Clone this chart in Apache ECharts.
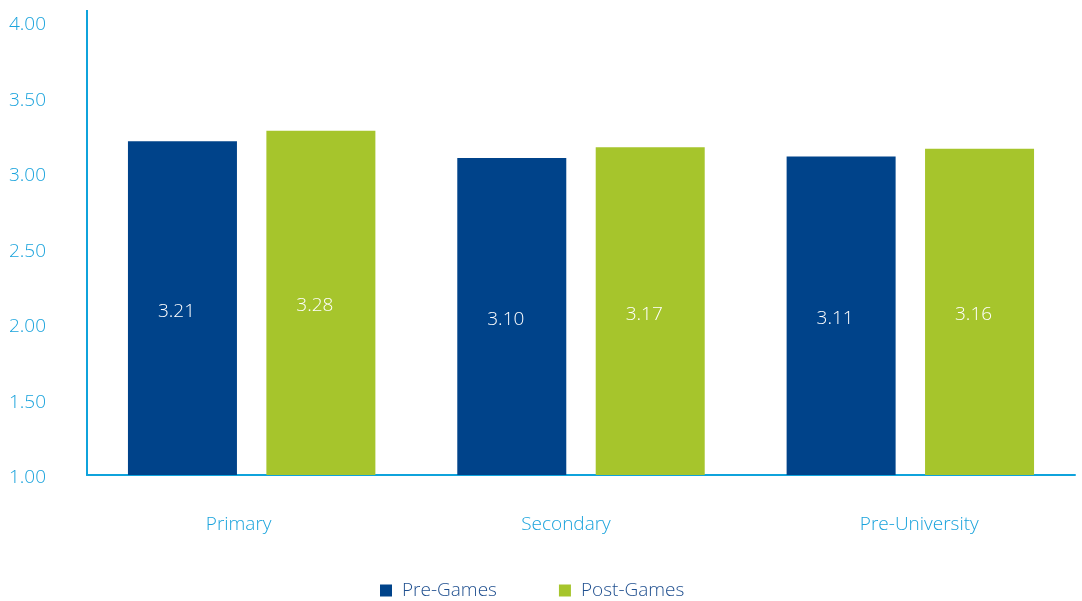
<!DOCTYPE html>
<html><head><meta charset="utf-8">
<script src="https://cdn.jsdelivr.net/npm/echarts@6/dist/echarts.min.js"></script>
<style>html,body{margin:0;padding:0;background:#fff}#c{width:1082px;height:601px}</style>
</head><body><div id="c"></div>
<script>
const categories = ['Primary', 'Secondary', 'Pre-University'];
const preGames = [3.21, 3.10, 3.11];
const postGames = [3.28, 3.17, 3.16];
const seriesNames = ['Pre-Games', 'Post-Games'];

const FONT = '"Open Sans", "Noto Sans", sans-serif';
const catPadding = [[0, 26, 0, 0], [0, 30, 0, 0], [0, 0, 0, 18]];
const chart = echarts.init(document.getElementById('c'));
const labelStyle = {show: true, position: 'inside', offset: [-6, 3], color: '#fff', fontSize: 19, fontFamily: FONT, fontWeight: 300,
  formatter: p => p.value.toFixed(2)};
chart.setOption({
  animation: false,
  grid: {left: 87, right: 7, top: 22, bottom: 126, containLabel: false},
  legend: {top: 576, left: 375, itemWidth: 12, itemHeight: 12, itemGap: 62, icon: 'rect',
    textStyle: {color: '#1f4f8f', fontSize: 19, fontFamily: FONT, fontWeight: 300, padding: [0, 0, 0, 5]}, data: seriesNames},
  xAxis: {type: 'category', data: categories.map((c, i) => ({value: c, textStyle: {padding: catPadding[i]}})),
    axisLine: {lineStyle: {color: '#0fa3dc', width: 2}}, axisTick: {show: false},
    axisLabel: {color: '#1aa3dc', fontSize: 19, fontFamily: FONT, fontWeight: 300, margin: 40}},
  yAxis: {type: 'value', min: 1, max: 4, interval: 0.5,
    axisLine: {show: true, lineStyle: {color: '#0fa3dc', width: 2}}, axisTick: {show: false},
    splitLine: {show: false},
    axisLabel: {color: '#1aa3dc', fontSize: 19, fontFamily: FONT, fontWeight: 300, align: 'left', margin: 78,
      verticalAlign: 'top', lineHeight: 6, formatter: v => v.toFixed(2)}},
  graphic: [{type: 'line', shape: {x1: 87, y1: 10, x2: 87, y2: 23}, style: {stroke: '#0fa3dc', lineWidth: 2}}],
  series: [
    {name: seriesNames[0], type: 'bar', data: preGames, barWidth: 109, barGap: '27%', itemStyle: {color: '#00438a'}, label: labelStyle},
    {name: seriesNames[1], type: 'bar', data: postGames, barWidth: 109, itemStyle: {color: '#a6c52c'}, label: labelStyle}
  ]
});
</script></body></html>
